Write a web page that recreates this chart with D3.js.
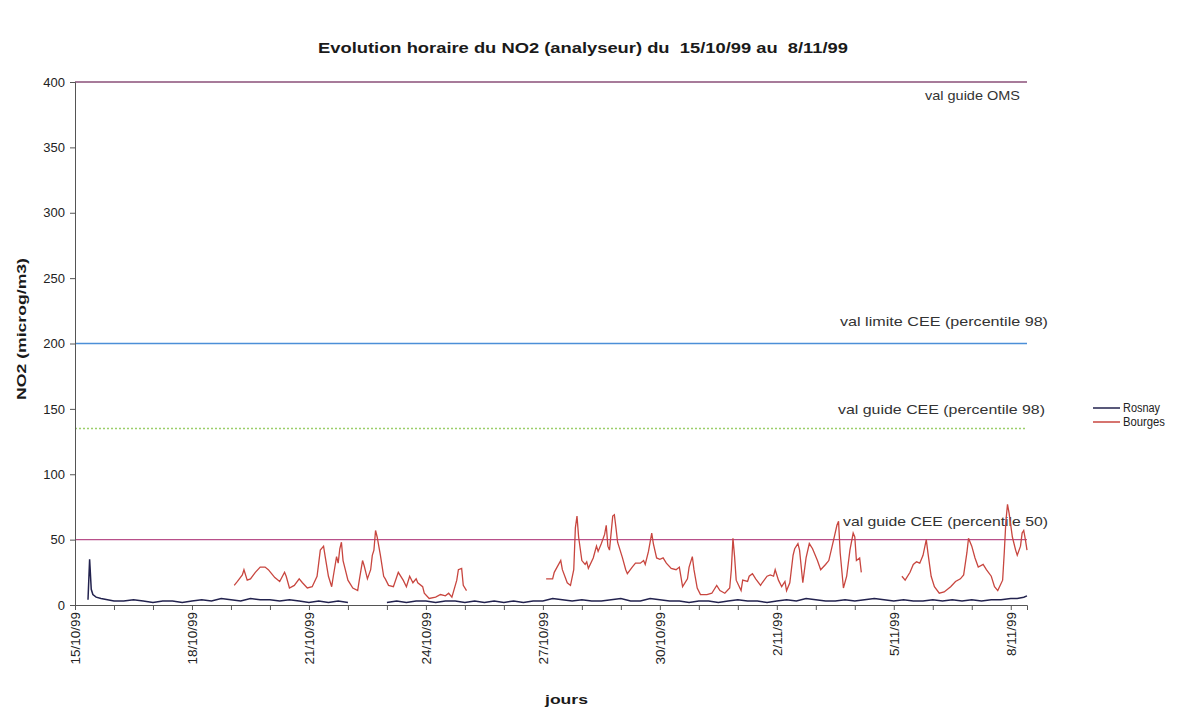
<!DOCTYPE html>
<html><head><meta charset="utf-8">
<script src="https://cdn.jsdelivr.net/npm/d3@7"></script>
<style>
body{margin:0;background:#fff;}
text{font-family:Arial,"Liberation Sans",sans-serif;}
</style>
</head><body>
<svg id="chart" width="1189" height="711"></svg>
<script>
// ---------- DATA ----------
const chartTitle = "Evolution horaire du NO2 (analyseur) du  15/10/99 au  8/11/99";
const yAxisTitle = "NO2 (microg/m3)";
const xAxisTitle = "jours";
const startDay = [1999, 9, 15];        // 15/10/99 00:00
const totalHours = 586;                 // axis end: 8/11/99 10:00
const yTickValues = [0, 50, 100, 150, 200, 250, 300, 350, 400];
const labelEveryDays = 3;

const refValues = [400, 200, 135, 50];
const refLabels = ["val guide OMS", "val limite CEE (percentile 98)", "val guide CEE (percentile 98)", "val guide CEE (percentile 50)"];

const seriesNames = ["Rosnay", "Bourges"];

// [hour since 15/10/99 00:00, µg/m3]
const rosnay1 = [[8,4],[9,35],[10,12],[11,8],[13,6],[16,5],[20,4],[24,3],[30,3],[36,4],[42,3],[48,2],[54,3],[60,3],[66,2],[72,3],[78,4],[84,3],[90,5],[96,4],[102,3],[108,5],[114,4],[120,4],[126,3],[132,4],[138,3],[144,2],[150,3],[156,2],[162,3],[168,2]];
const rosnay2 = [[192,2],[198,3],[204,2],[210,3],[216,3],[222,2],[228,3],[234,3],[240,2],[246,3],[252,2],[258,3],[264,2],[270,3],[276,2],[282,3],[288,3],[294,5],[300,4],[306,3],[312,4],[318,3],[324,3],[330,4],[336,5],[342,3],[348,3],[354,5],[360,4],[366,3],[372,3],[378,2],[384,3],[390,3],[396,2],[402,3],[408,4],[414,3],[420,3],[426,2],[432,3],[438,4],[444,3],[450,5],[456,4],[462,3],[468,3],[474,4],[480,3],[486,4],[492,5],[498,4],[504,3],[510,4],[516,3],[522,3],[528,4],[534,3],[540,4],[546,3],[552,4],[558,3],[564,4],[570,4],[576,5],[580,5],[584,6],[586,7]];

const bourges1 = [[98,15],[100,18],[103,23],[104,27],[106,19],[108,20],[111,25],[114,29],[117,29],[119,27],[121,24],[123,21],[126,18],[129,25],[130,22],[132,13],[135,15],[138,20],[140,17],[143,13],[146,14],[149,22],[151,42],[153,45],[154,37],[156,22],[158,14],[159,22],[161,37],[162,32],[163,43],[164,48],[165,34],[166,29],[168,19],[171,13],[174,11],[175,19],[177,34],[178,30],[180,20],[182,27],[183,38],[184,42],[185,57],[186,52],[188,38],[190,22],[191,20],[193,15],[196,14],[199,25],[202,19],[204,14],[206,22],[208,17],[210,20],[211,17],[214,14],[215,9],[218,5],[222,6],[225,8],[228,7],[230,9],[232,6],[235,19],[236,27],[238,28],[239,15],[241,11]];
const bourges2 = [[290,20],[294,20],[295,25],[299,34],[300,27],[303,17],[305,15],[307,27],[308,59],[309,68],[310,52],[312,34],[314,31],[315,33],[316,28],[319,36],[321,45],[322,41],[324,47],[326,54],[327,61],[328,45],[329,42],[331,68],[332,69],[333,59],[334,48],[337,36],[339,27],[340,24],[343,29],[345,32],[348,32],[350,34],[351,31],[353,41],[355,55],[356,47],[358,36],[360,35],[362,36],[364,32],[367,28],[370,27],[372,29],[374,14],[377,20],[378,29],[380,37],[381,27],[383,13],[385,8],[389,8],[392,9],[395,15],[397,11],[400,9],[403,13],[404,27],[405,51],[406,37],[407,19],[410,11],[411,19],[414,18],[415,22],[417,24],[419,20],[422,15],[423,17],[426,22],[428,23],[430,22],[431,27],[433,19],[435,14],[437,18],[438,11],[440,17],[442,38],[443,43],[445,47],[446,42],[448,17],[450,36],[452,47],[454,43],[457,34],[459,27],[462,31],[464,34],[467,50],[469,61],[470,64],[471,40],[473,13],[475,22],[477,42],[479,55],[480,52],[481,34],[483,36],[484,25]];
const bourges3 = [[509,22],[511,19],[514,25],[516,31],[518,33],[520,32],[522,38],[524,50],[525,40],[527,22],[529,14],[532,9],[535,10],[539,14],[542,18],[545,20],[547,23],[549,40],[550,51],[552,45],[554,36],[556,29],[559,31],[561,27],[564,22],[566,14],[568,11],[571,19],[572,40],[573,64],[574,77],[575,70],[577,52],[579,42],[580,38],[582,45],[583,55],[584,57],[585,50],[586,42]];

// ---------- CHART ----------
const svg = d3.select("#chart");
const W = 1189, H = 711;
const plot = {left: 75, right: 1027, top: 82, bottom: 605};

const t0 = new Date(startDay[0], startDay[1], startDay[2]);
const hourToDate = h => d3.timeHour.offset(t0, h);
const x = d3.scaleTime().domain([t0, hourToDate(totalHours)]).range([plot.left, plot.right]);
const y = d3.scaleLinear().domain([0, 400]).range([plot.bottom, plot.top]);

svg.append("rect").attr("width", W).attr("height", H).attr("fill", "#fff");

// title
svg.append("text").attr("x", 318).attr("y", 53)
  .attr("font-size", 14).attr("font-weight", "bold").attr("fill", "#1a1a1a")
  .style("white-space", "pre").attr("xml:space", "preserve")
  .attr("textLength", 530).attr("lengthAdjust", "spacingAndGlyphs").text(chartTitle);

// reference lines
const refColors = ["#8a4f78", "#4b8fd8", "#9bcf6a", "#b8508a"];
const refDash = [null, null, "2,2", null];
const refLabelX = [925, 840, 838, 843];
const refLabelLen = [95, 208, 207, 205];
const refLabelDy = [18, -18, -14, -14];
refValues.forEach((v, i) => {
  svg.append("line").attr("x1", plot.left).attr("x2", plot.right)
    .attr("y1", y(v)).attr("y2", y(v))
    .attr("stroke", refColors[i]).attr("stroke-width", 1.3)
    .attr("stroke-dasharray", refDash[i]);
  svg.append("text").attr("x", refLabelX[i]).attr("y", y(v) + refLabelDy[i])
    .attr("font-size", 13).attr("fill", "#333")
    .attr("textLength", refLabelLen[i]).attr("lengthAdjust", "spacingAndGlyphs")
    .text(refLabels[i]);
});

// y axis
const yAxis = d3.axisLeft(y).tickValues(yTickValues).tickSize(5).tickPadding(5);
const gy = svg.append("g").attr("transform", `translate(${plot.left},0)`).call(yAxis);
gy.select(".domain").attr("stroke", "#555");
gy.selectAll(".tick line").attr("stroke", "#555");
gy.selectAll(".tick text").attr("font-size", 13).attr("fill", "#222")
  .attr("font-family", "Arial, 'Liberation Sans', sans-serif");

// x axis
const dayTicks = d3.timeDay.range(t0, hourToDate(totalHours));
const fmt = d3.timeFormat("%-d/%m/%y");
const xAxis = d3.axisBottom(x).tickValues(dayTicks).tickSize(5).tickPadding(6)
  .tickFormat((d, i) => i % labelEveryDays === 0 ? fmt(d) : "");
const gx = svg.append("g").attr("transform", `translate(0,${plot.bottom})`).call(xAxis);
gx.select(".domain").attr("stroke", "#555");
gx.selectAll(".tick line").attr("stroke", "#555");
gx.selectAll(".tick text").attr("font-size", 13.5).attr("fill", "#222")
  .attr("font-family", "Arial, 'Liberation Sans', sans-serif")
  .attr("transform", "rotate(-90)").attr("text-anchor", "end")
  .attr("x", -7).attr("y", 0).attr("dy", "0.35em");

// axis titles
svg.append("text").attr("x", 545).attr("y", 704)
  .attr("font-size", 13).attr("font-weight", "bold").attr("fill", "#1a1a1a")
  .attr("textLength", 43).attr("lengthAdjust", "spacingAndGlyphs").text(xAxisTitle);
svg.append("text").attr("transform", "translate(26,400) rotate(-90)")
  .attr("font-size", 13).attr("font-weight", "bold").attr("fill", "#1a1a1a")
  .attr("textLength", 142).attr("lengthAdjust", "spacingAndGlyphs").text(yAxisTitle);

// series
const line = d3.line().x(d => x(hourToDate(d[0]))).y(d => y(d[1]));
const seriesColors = ["#22224e", "#c8463f"];
[rosnay1, rosnay2].forEach(seg => svg.append("path").datum(seg).attr("d", line)
  .attr("fill", "none").attr("stroke", seriesColors[0]).attr("stroke-width", 1.5));
[bourges1, bourges2, bourges3].forEach(seg => svg.append("path").datum(seg).attr("d", line)
  .attr("fill", "none").attr("stroke", seriesColors[1]).attr("stroke-width", 1.3));

// legend
const legendLen = [37, 42];
const lg = svg.append("g").attr("transform", "translate(1088,396)");
seriesNames.forEach((n, i) => {
  lg.append("line").attr("x1", 5).attr("x2", 32).attr("y1", 12 + i * 14).attr("y2", 12 + i * 14)
    .attr("stroke", seriesColors[i]).attr("stroke-width", 1.5);
  lg.append("text").attr("x", 35).attr("y", 16 + i * 14).attr("font-size", 12.5).attr("fill", "#222")
    .attr("textLength", legendLen[i]).attr("lengthAdjust", "spacingAndGlyphs").text(n);
});
</script>
</body></html>
